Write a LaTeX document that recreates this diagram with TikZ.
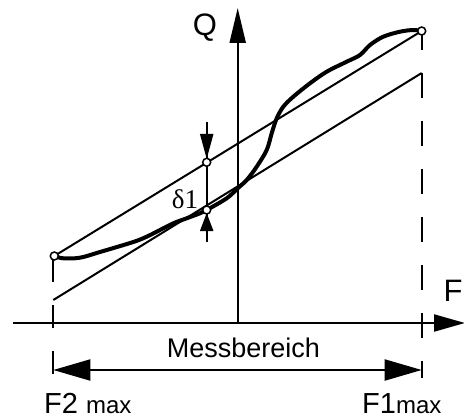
\documentclass[tikz,border=0pt]{standalone}
\usepackage{fontspec}
\setmainfont{Liberation Sans}
\newfontfamily\seriffont{Liberation Serif}
\usetikzlibrary{arrows.meta}
\begin{document}
\begin{tikzpicture}[x=1pt,y=-1pt,
  thinln/.style={line width=2pt},
  axisln/.style={line width=2.2pt},
  dashln/.style={line width=2.2pt},
  curveln/.style={line width=4pt,line join=round,line cap=round},
  pt/.style={circle,draw,fill=white,line width=1.5pt,inner sep=0pt,minimum size=8pt},
  lbl/.style={inner sep=0pt,font=\fontsize{31}{31}\selectfont}
]
\useasboundingbox (0,0) rectangle (464,420);
% coordinates
\coordinate (xs) at (13,323);
\coordinate (xe) at (465,323);
\coordinate (ys) at (237.7,323);
\coordinate (ye) at (237.7,8);
\coordinate (cP2) at (54.3,256);
\coordinate (cP1) at (421.7,31);
\coordinate (L2) at (53.3,300);
\coordinate (L1) at (421.7,73);
\coordinate (dtop) at (206.7,122);
\coordinate (dbot) at (206.7,242);
\coordinate (dUe) at (206.7,159);
\coordinate (dLe) at (206.7,213);
\coordinate (lvs) at (53.3,259);
\coordinate (lve) at (53.3,377);
\coordinate (rvs) at (421.7,31);
\coordinate (rve) at (421.7,378);
\coordinate (ml) at (53.3,370);
\coordinate (mr) at (421.7,370);
% axes
\draw[axisln,-{Triangle[length=31pt,width=17pt]}] (xs) -- (xe);
\draw[axisln,-{Triangle[length=35pt,width=16pt]}] (ys) -- (ye);
% dashed verticals
\draw[dashln,dash pattern=on 23pt off 23pt] (lvs) -- (lve);
\draw[dashln,dash pattern=on 25pt off 23pt,dash phase=6pt] (rvs) -- (rve);
% lines
\draw[thinln] (cP2) -- (cP1);
\draw[thinln] (L2) -- (L1);
% curve
\draw[curveln] plot[smooth,tension=0.55] coordinates {
 (54.3,256) (63.3,258.3) (80,257.7) (100,252) (133.3,242) (146.7,236.7)
 (156.7,231.7) (173.3,223.3) (186.7,218.3) (200,213.3) (206.7,210)
 (226.7,198.3) (237.7,188.3) (246.7,180) (256.7,166.7) (266.7,150)
 (271.7,133.3) (276.7,118.3) (283.3,106.7) (293.3,96.7) (310,83.3)
 (326.7,71.7) (346.7,61.7) (360,55) (370,45) (383.3,36.7) (400,31.7)
 (413.3,30) (421.7,31)};
% delta
\draw[thinln] (dtop) -- (dbot);
\draw[thinln,-{Triangle[length=25pt,width=13pt]}] (dtop) -- (dUe);
\draw[thinln,-{Triangle[length=18pt,width=13pt]}] (dbot) -- (dLe);
% points on top
\node[pt] (P2) at (cP2) {};
\node[pt] (P1) at (cP1) {};
\node[pt] (dU) at (206.7,162.3) {};
\node[pt] (dL) at (206.7,210) {};
\node[inner sep=0pt,font=\seriffont\fontsize{27}{27}\selectfont] (dl) at (185,199) {δ1};
% dimension
\draw[line width=2pt,{Triangle[length=37pt,width=21pt]}-{Triangle[length=37pt,width=21pt]}] (ml) -- (mr);
% labels
\node[lbl] (Q) at (205,28) {Q};
\node[lbl] (F) at (453,291) {F};
\node[inner sep=0pt,anchor=base,font=\fontsize{27}{27}\selectfont] (mb) at (243.5,357) {Messbereich};
\node[inner sep=0pt,anchor=base west,font=\fontsize{29}{29}\selectfont] (f2) at (44,413) {F2 {\fontsize{24}{24}\selectfont max}};
\node[inner sep=0pt,anchor=base west,font=\fontsize{29}{29}\selectfont] (f1) at (362,413) {F1{\fontsize{24}{24}\selectfont max}};
\end{tikzpicture}
\end{document}
